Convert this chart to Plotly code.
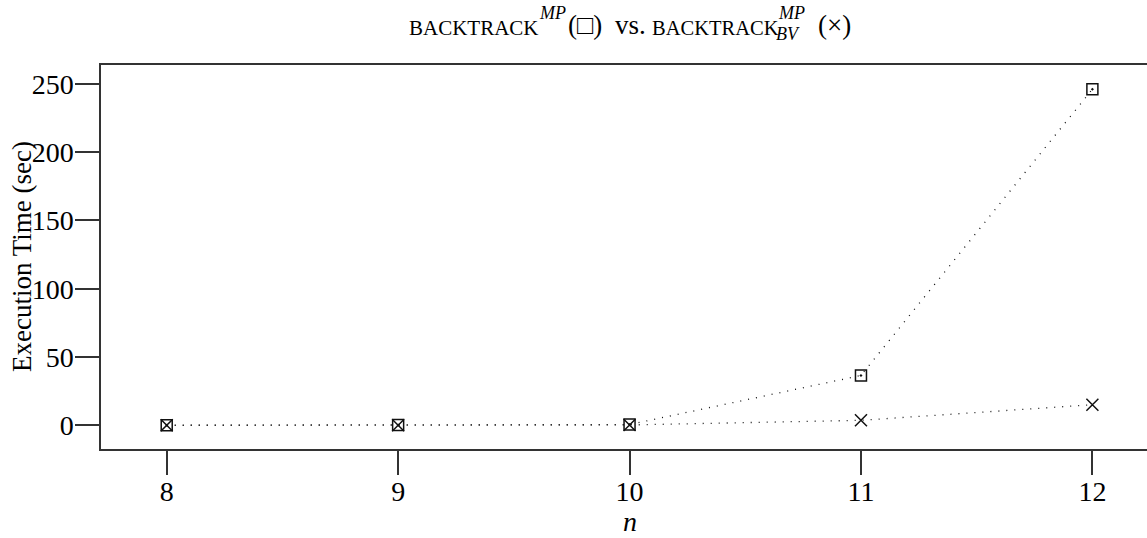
import plotly.graph_objects as go

# ---- data ----
n_values = [8, 9, 10, 11, 12]
backtrack_mp = [0.1, 0.2, 0.6, 36.5, 246.0]
backtrack_bv_mp = [0.05, 0.1, 0.3, 3.7, 15.1]
y_ticks = [0, 50, 100, 150, 200, 250]
x_ticks = [8, 9, 10, 11, 12]

W, H = 1147, 538
L, R, T, B = 101, 0, 65, 89
FONT = "Liberation Serif, Times New Roman, serif"
AX = "#333333"

def px(x):
    return (x - L) / (W - L - R)

def py(y):
    return (H - B - y) / (H - T - B)

fig = go.Figure()
fig.add_trace(go.Scatter(
    x=n_values, y=backtrack_mp, mode="lines+markers",
    line=dict(color="#111111", width=1.3, dash="1px,7px"),
    marker=dict(symbol="square-open-dot", size=11, color="#111111",
                line=dict(width=1.5, color="#111111")),
    showlegend=False))
fig.add_trace(go.Scatter(
    x=n_values, y=backtrack_bv_mp, mode="lines+markers",
    line=dict(color="#111111", width=1.3, dash="1px,7px"),
    marker=dict(symbol="x-thin-open", size=12, color="#111111",
                line=dict(width=1.5, color="#111111")),
    showlegend=False))

# title pieces (text, font size, italic, left x px, center y px, box height)
title_parts = [
    ("BACKTRACK", 21, False, 408, 28, None),
    ("MP", 18, True, 538, 13, 15),
    ("(□)", 27, False, 567, 25, None),
    ("vs.", 27, False, 614, 25, None),
    ("BACKTRACK", 20.5, False, 651, 28, None),
    ("MP", 18, True, 777, 13, 15),
    ("BV", 18, True, 775, 33, 15),
    ("(×)", 27, False, 817, 25, None),
]
annotations = []
for txt, fs, it, x, y, h in title_parts:
    a = dict(
        text=f"<i>{txt}</i>" if it else txt, xref="paper", yref="paper",
        x=px(x), y=py(y), xanchor="left", yanchor="middle", borderpad=0,
        showarrow=False, font=dict(family=FONT, size=fs, color="black"))
    if h:
        a["height"] = h
    annotations.append(a)

annotations.append(dict(
    text="Execution Time (sec)", xref="paper", yref="paper",
    x=px(22), y=py(257), xanchor="center", yanchor="middle", textangle=-90,
    showarrow=False, font=dict(family=FONT, size=27, color="black")))
annotations.append(dict(
    text="<i>n</i>", xref="paper", yref="paper",
    x=px(630), y=py(521), xanchor="center", yanchor="middle", borderpad=0,
    showarrow=False, font=dict(family=FONT, size=28, color="black")))

fig.update_layout(
    width=W, height=H,
    margin=dict(l=L, r=R, t=T, b=B, pad=0),
    paper_bgcolor="white", plot_bgcolor="white",
    font=dict(family=FONT, size=27, color="black"),
    annotations=annotations,
    xaxis=dict(range=[7.716, 12.236], tickvals=x_ticks, ticktext=[str(v) for v in x_ticks],
               ticks="outside", ticklen=24, tickwidth=1.5, tickcolor=AX,
               ticklabelstandoff=-7,
               showline=True, linecolor=AX, linewidth=1.5, mirror=True,
               showgrid=False, zeroline=False,
               tickfont=dict(family=FONT, size=28, color="black")),
    yaxis=dict(range=[-17.3, 263.7], tickvals=y_ticks, ticktext=[str(v) for v in y_ticks],
               ticks="outside", ticklen=24, tickwidth=1.5, tickcolor=AX,
               ticklabelstandoff=-4,
               showline=True, linecolor=AX, linewidth=1.5, mirror=False,
               showgrid=False, zeroline=False,
               tickfont=dict(family=FONT, size=28, color="black")),
)

fig.write_html("out.html")
